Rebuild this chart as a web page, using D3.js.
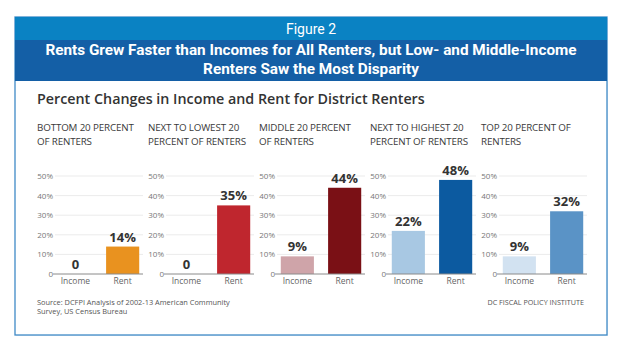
<!DOCTYPE html>
<html><head><meta charset="utf-8">
<script src="https://cdn.jsdelivr.net/npm/d3@7"></script>
<style>
html,body{margin:0;padding:0;background:#fff;}
svg{display:block;}
</style></head>
<body>
<svg id="chart" width="640" height="359"></svg>
<script>
const groups = ["BOTTOM 20 PERCENT|OF RENTERS", "NEXT TO LOWEST 20|PERCENT OF RENTERS", "MIDDLE 20 PERCENT|OF RENTERS", "NEXT TO HIGHEST 20|PERCENT OF RENTERS", "TOP 20 PERCENT OF|RENTERS"];
const measures = ["Income", "Rent"];
const incomeChange = [0, 0, 9, 22, 9];
const rentChange = [14, 35, 44, 48, 32];
const incomeColors = ["#f3d3a8", "#e8b3b5", "#cfa4a9", "#a8c8e3", "#d2e2f1"];
const rentColors = ["#e9921f", "#bf262e", "#7a1015", "#0c5aa0", "#5a93c6"];
const yTicks = [0, 10, 20, 30, 40, 50];
const headerText = "Figure 2";
const titleLines = ["Rents Grew Faster than Incomes for All Renters, but Low- and Middle-Income", "Renters Saw the Most Disparity"];
const subtitle = "Percent Changes in Income and Rent for District Renters";
const sourceLines = ["Source: DCFPI Analysis of 2002-13 American Community", "Survey, US Census Bureau"];
const credit = "DC FISCAL POLICY INSTITUTE";

const svg = d3.select("#chart");
const boxL = 15, boxR = 607, boxT = 17, boxB = 335;

// frame
svg.append("rect").attr("x", boxL + 1).attr("y", boxT + 1).attr("width", boxR - boxL).attr("height", boxB - boxT)
  .attr("fill", "#e4edf5");
svg.append("rect").attr("x", boxL).attr("y", boxT).attr("width", boxR - boxL).attr("height", boxB - boxT)
  .attr("fill", "#fff").attr("stroke", "#3f8ac7").attr("stroke-width", 1.3);
svg.append("rect").attr("x", boxL).attr("y", boxT).attr("width", boxR - boxL).attr("height", 23).attr("fill", "#0a82c3");
svg.append("rect").attr("x", boxL).attr("y", boxT + 23).attr("width", boxR - boxL).attr("height", 41).attr("fill", "#145fa6");

const cx = (boxL + boxR) / 2;
svg.append("text").attr("x", cx).attr("y", 34).attr("text-anchor", "middle")
  .attr("font-family", "Roboto, 'Liberation Sans', sans-serif").attr("font-size", 14).attr("fill", "#fff")
  .text(headerText);
const titleEl = svg.append("text").attr("text-anchor", "middle")
  .attr("font-family", "Roboto, 'Liberation Sans', sans-serif").attr("font-weight", "bold").attr("font-size", 15.3)
  .attr("fill", "#fff");
titleEl.selectAll("tspan").data(titleLines).join("tspan")
  .attr("x", cx).attr("y", (d, i) => 55 + i * 19).text(d => d);

svg.append("text").attr("x", 37).attr("y", 104)
  .attr("font-family", "'Open Sans', sans-serif").attr("font-weight", 600).attr("font-size", 14.3).attr("fill", "#333")
  .text(subtitle);

// scales
const x0 = d3.scaleBand().domain(groups).range([37, 592]).padding(0);
const y = d3.scaleLinear().domain([0, 50]).range([274, 176]);

groups.forEach((g, gi) => {
  const px = x0(g);
  const gEl = svg.append("g");
  const axL = px + 18, axR = px + 106;
  const xb = d3.scaleBand().domain(measures).range([axL, axR]).paddingInner(0.3).paddingOuter(0.08);

  // panel title (one text element, two lines)
  const pt = gEl.append("text")
    .attr("font-family", "'Open Sans', sans-serif").attr("font-size", 9.8).attr("letter-spacing", -0.15)
    .attr("fill", "#3a3a3a");
  pt.selectAll("tspan").data(g.split("|")).join("tspan")
    .attr("x", px).attr("y", (d, li) => 131 + li * 13.7).text(d => d);

  // grid and ticks
  gEl.selectAll("line.grid").data(yTicks.filter(t => t > 0)).join("line").attr("class", "grid")
    .attr("x1", axL).attr("x2", axR).attr("y1", d => y(d)).attr("y2", d => y(d))
    .attr("stroke", "#e6e6e6").attr("stroke-width", 0.8);
  gEl.selectAll("text.tick").data(yTicks).join("text").attr("class", "tick")
    .attr("x", px + 16).attr("y", d => y(d) + 3).attr("text-anchor", "end")
    .attr("font-family", "'Open Sans', sans-serif").attr("font-size", 8).attr("fill", "#777")
    .text(d => d === 0 ? "0" : d + "%");

  const vals = [incomeChange[gi], rentChange[gi]];
  const cols = [incomeColors[gi], rentColors[gi]];
  gEl.selectAll("rect.bar").data(measures).join("rect").attr("class", "bar")
    .attr("x", d => xb(d)).attr("width", xb.bandwidth())
    .attr("y", (d, i) => y(vals[i])).attr("height", (d, i) => y(0) - y(vals[i]))
    .attr("fill", (d, i) => cols[i]);

  gEl.append("line").attr("x1", axL - 2).attr("x2", axR).attr("y1", y(0)).attr("y2", y(0))
    .attr("stroke", "#8a8a8a").attr("stroke-width", 1);

  gEl.selectAll("text.val").data(measures).join("text").attr("class", "val")
    .attr("x", d => xb(d) + xb.bandwidth() / 2).attr("y", (d, i) => y(vals[i]) - 5)
    .attr("text-anchor", "middle").attr("font-family", "'Open Sans', sans-serif").attr("font-weight", "bold")
    .attr("font-size", 13).attr("fill", "#333")
    .text((d, i) => vals[i] === 0 ? "0" : vals[i] + "%");

  gEl.selectAll("text.cat").data(measures).join("text").attr("class", "cat")
    .attr("x", d => xb(d) + xb.bandwidth() / 2).attr("y", 284)
    .attr("text-anchor", "middle").attr("font-family", "'Open Sans', sans-serif")
    .attr("font-size", 8.5).attr("fill", "#666").text(d => d);
});

const srcEl = svg.append("text")
  .attr("font-family", "'Open Sans', sans-serif").attr("font-size", 7.4).attr("fill", "#555");
srcEl.selectAll("tspan").data(sourceLines).join("tspan")
  .attr("x", 37).attr("y", (d, i) => 305 + i * 8.5).text(d => d);
svg.append("text").attr("x", 584).attr("y", 305).attr("text-anchor", "end")
  .attr("font-family", "'Open Sans', sans-serif").attr("font-size", 7.2).attr("fill", "#555").text(credit);
</script>
</body></html>
